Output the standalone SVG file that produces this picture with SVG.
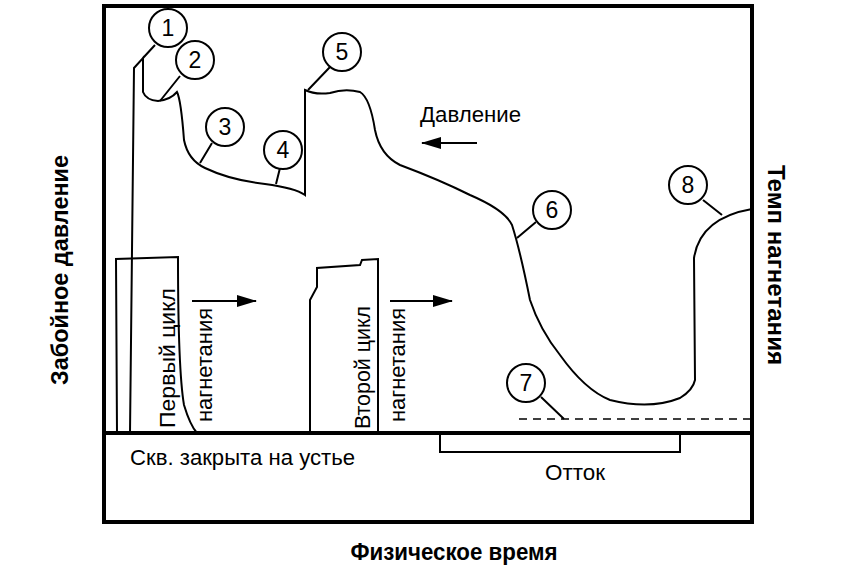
<svg xmlns="http://www.w3.org/2000/svg" width="842" height="583" viewBox="0 0 842 583">
<style>
.l{fill:none;stroke:#000;stroke-width:2}
.c{fill:#fff;stroke:#000;stroke-width:2}
.t{font-family:"Liberation Sans",Arial,sans-serif;font-size:22px;fill:#000}
.n{font-family:"Liberation Sans",Arial,sans-serif;font-size:23px;fill:#000;text-anchor:middle}
.b{font-family:"Liberation Sans",Arial,sans-serif;font-size:23px;font-weight:bold;fill:#000;text-anchor:middle}
</style>
<defs><marker id="a" markerWidth="20" markerHeight="12" refX="19" refY="6" orient="auto" markerUnits="userSpaceOnUse"><path d="M0,0L20,6L0,12z"/></marker></defs>
<rect x="104" y="6" width="648" height="516" fill="#fff" stroke="#000" stroke-width="4"/>
<g id="connectors">
<line x1="104" y1="433" x2="752" y2="433" stroke="#000" stroke-width="4"/>
<path class="l" d="M440,433V452H680V433"/>
<path class="l" d="M130,433L134,68L143,58V92Q146,100 158,101Q170,100 177,92Q181,100 184,140Q188,160 205,168Q230,180 265,184Q295,188 305,195V90Q315,95 330,93Q345,88 360,92Q370,98 375,130Q380,155 400,165Q440,180 470,195Q505,210 512,225Q520,250 530,300Q540,330 560,355Q585,390 610,400Q650,410 680,398Q693,390 695,380L694,258Q700,218 752,209"/>
<path class="l" d="M117,433L116,259L178,257Q178,370 184,405Q190,425 197,433"/>
<path class="l" d="M310,433V300L317,287V268L360,265L362,260L378,259V433"/>
<line x1="519" y1="419" x2="752" y2="419" stroke="#000" stroke-width="1.5" stroke-dasharray="8,6"/>
<line class="l" x1="192" y1="301" x2="256" y2="301" marker-end="url(#a)"/>
<line class="l" x1="390" y1="301" x2="452" y2="301" marker-end="url(#a)"/>
<line class="l" x1="477" y1="143" x2="422" y2="143" marker-end="url(#a)"/>
<path class="l" d="M155,45L143,58M180,76L160,101M212,143L200,163M280,168L276,184M330,67L308,90M536,222L517,238M541,397L564,419M703,200L722,215"/>
</g>
<g id="n1"><circle class="c" cx="168" cy="28" r="19"/><text class="n" x="168" y="36">1</text></g>
<g id="n2"><circle class="c" cx="195" cy="60" r="19"/><text class="n" x="195" y="68">2</text></g>
<g id="n3"><circle class="c" cx="225" cy="127" r="19"/><text class="n" x="225" y="135">3</text></g>
<g id="n4"><circle class="c" cx="283" cy="150" r="19"/><text class="n" x="283" y="158">4</text></g>
<g id="n5"><circle class="c" cx="342" cy="52" r="19"/><text class="n" x="342" y="60">5</text></g>
<g id="n6"><circle class="c" cx="552" cy="210" r="19"/><text class="n" x="552" y="218">6</text></g>
<g id="n7"><circle class="c" cx="526" cy="383" r="19"/><text class="n" x="526" y="391">7</text></g>
<g id="n8"><circle class="c" cx="688" cy="185" r="19"/><text class="n" x="688" y="193">8</text></g>
<g id="labels">
<text class="t" x="420" y="122" textLength="101" lengthAdjust="spacingAndGlyphs">Давление</text>
<text class="t" x="130" y="465" textLength="225" lengthAdjust="spacingAndGlyphs">Скв. закрыта на устье</text>
<text class="t" x="545" y="480" textLength="60" lengthAdjust="spacingAndGlyphs">Отток</text>
<text class="t" transform="translate(175,428) rotate(-90)" textLength="140" lengthAdjust="spacingAndGlyphs">Первый цикл</text>
<text class="t" transform="translate(212,422) rotate(-90)" textLength="114" lengthAdjust="spacingAndGlyphs">нагнетания</text>
<text class="t" transform="translate(370,429) rotate(-90)" textLength="123" lengthAdjust="spacingAndGlyphs">Второй цикл</text>
<text class="t" transform="translate(405,422) rotate(-90)" textLength="114" lengthAdjust="spacingAndGlyphs">нагнетания</text>
<text class="b" transform="translate(68,270) rotate(-90)" textLength="230" lengthAdjust="spacingAndGlyphs">Забойное давление</text>
<text class="b" transform="translate(768,265) rotate(90)" textLength="200" lengthAdjust="spacingAndGlyphs">Темп нагнетания</text>
<text class="b" x="454" y="560" textLength="207" lengthAdjust="spacingAndGlyphs">Физическое время</text>
</g>
</svg>
